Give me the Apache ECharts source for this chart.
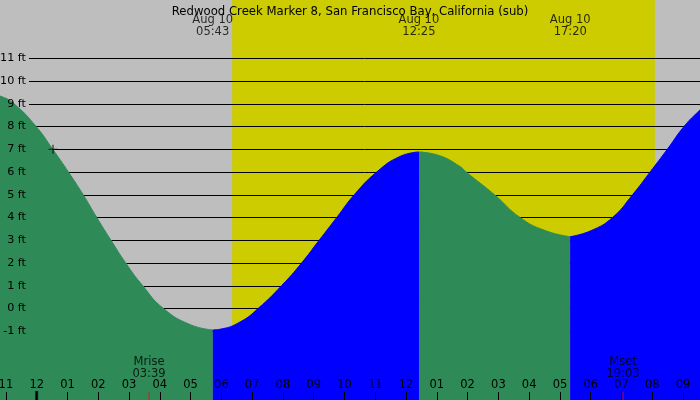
<!DOCTYPE html>
<html>
<head>
<meta charset="utf-8">
<title>Redwood Creek Marker 8 tides</title>
<script src="https://cdn.jsdelivr.net/npm/echarts@6/dist/echarts.min.js"></script>
<style>
  html, body { margin: 0; padding: 0; background: #bebebe; }
  #chart { width: 700px; height: 400px; }
</style>
</head>
<body>
<div id="chart"></div>
<script>
// Высота прилива [час от полуночи 10 авг., футы]
const fallingNight = [[-2, 9.65], [-1.19, 9.34], [-0.74, 9.0], [-0.02, 8.0], [0.52, 7.0], [1.03, 6.0], [1.51, 5.0], [1.95, 4.0], [2.41, 3.0], [2.89, 2.0], [3.44, 1.0], [4.11, 0.0], [4.99, -0.72], [5.72, -0.95]];
const risingMorning = [[5.72, -0.95], [5.96, -0.92], [6.61, -0.6], [7.2, 0.0], [7.96, 1.0], [8.61, 2.0], [9.18, 3.0], [9.75, 4.0], [10.32, 5.0], [11.05, 6.0], [11.8, 6.68], [12.42, 6.88]];
const fallingAfternoon = [[12.42, 6.88], [13.1, 6.71], [13.75, 6.24], [13.95, 6.0], [14.87, 5.0], [15.7, 4.0], [16.52, 3.42], [17.33, 3.15]];
const risingEvening = [[17.33, 3.15], [18.0, 3.41], [18.71, 4.0], [19.36, 5.0], [19.93, 6.0], [20.49, 7.0], [21.03, 8.0], [21.55, 8.73], [22, 9.3]];

// События
const tideDate = 'Aug 10';
const tideTimes = ['05:43', '12:25', '17:20'];
const moonEvents = [['Mrise', '03:39'], ['Mset', '19:03']];
const daylight = ['06:21', '20:05'];
const nowMark = [0.53, 7.0];

const titleText = 'Redwood Creek Marker 8, San Francisco Bay, California (sub)';
const font = 'DejaVu Sans';

// Границы шкалы высот для всего полотна
const yMin = -4.035;
const yMax = 13.565;

function toHours(t) {
    const [h, m] = t.split(':').map(Number);
    return h + m / 60;
}

function hourLabel(v) {
    const hh = ((v % 12) + 12) % 12;
    return String(hh === 0 ? 12 : hh).padStart(2, '0');
}

const tideSeries = (data, color) => ({
    type: 'line',
    xAxisIndex: 0,
    yAxisIndex: 0,
    data,
    smooth: 0.5,
    symbol: 'none',
    silent: true,
    lineStyle: { color, width: 1 },
    areaStyle: { color, opacity: 1, origin: 'start' },
    z: 2
});

const chart = echarts.init(document.getElementById('chart'));

const option = {
    backgroundColor: '#bebebe',
    animation: false,
    textStyle: { fontFamily: font },
    title: {
        text: titleText,
        left: 'center',
        top: 1,
        textStyle: { fontSize: 11.7, fontWeight: 'normal', color: '#000', fontFamily: font }
    },
    grid: [
        { left: -24.86, right: -13.86, top: 0, bottom: 0, outerBoundsMode: 'none', containLabel: false },
        { left: 29, right: 0, top: 58.3, bottom: 68.7, outerBoundsMode: 'none', containLabel: false }
    ],
    xAxis: [
        {
            gridIndex: 0,
            type: 'value',
            min: -2,
            max: 22,
            interval: 1,
            z: 3,
            axisLine: { show: false, onZero: false },
            splitLine: { show: false },
            axisTick: { inside: true, length: 8, lineStyle: { color: '#000', width: 1 } },
            axisLabel: {
                inside: true,
                margin: 9,
                color: '#000',
                fontSize: 11.5,
                fontFamily: font,
                formatter: hourLabel
            }
        },
        { gridIndex: 1, type: 'value', min: 0, max: 1, show: false }
    ],
    yAxis: [
        { gridIndex: 0, type: 'value', min: yMin, max: yMax, show: false },
        {
            gridIndex: 1,
            type: 'value',
            min: -1,
            max: 11,
            interval: 1,
            z: 1,
            axisLine: { show: false },
            axisTick: { show: false },
            axisLabel: { show: false },
            splitLine: { show: true, lineStyle: { color: '#000', width: 1 } }
        },
        {
            gridIndex: 1,
            type: 'value',
            position: 'left',
            min: -1,
            max: 11,
            interval: 1,
            z: 3,
            axisLine: { show: false },
            axisTick: { show: false },
            splitLine: { show: false },
            axisLabel: {
                margin: 3,
                color: '#000',
                fontSize: 11.2,
                fontFamily: font,
                formatter: '{value} ft'
            }
        }
    ],
    series: [
        // день
        {
            type: 'line',
            xAxisIndex: 0,
            yAxisIndex: 0,
            data: daylight.map(t => [toHours(t), yMax]),
            symbol: 'none',
            silent: true,
            lineStyle: { width: 0 },
            areaStyle: { color: '#cccc00', opacity: 1, origin: 'start' },
            z: 0
        },
        tideSeries(fallingNight, '#2e8b57'),
        tideSeries(risingMorning, '#0000ff'),
        tideSeries(fallingAfternoon, '#2e8b57'),
        tideSeries(risingEvening, '#0000ff'),
        // подписи экстремумов
        {
            type: 'scatter',
            xAxisIndex: 0,
            yAxisIndex: 0,
            symbolSize: 0,
            silent: true,
            z: 4,
            data: tideTimes.map(t => ({ value: [toHours(t), yMax], name: t })),
            label: {
                show: true,
                position: 'bottom',
                distance: 14,
                color: '#000',
                fontSize: 11.5,
                fontFamily: font,
                lineHeight: 12,
                align: 'center',
                formatter: p => tideDate + '\n' + p.name
            }
        },
        // луна
        {
            type: 'scatter',
            xAxisIndex: 0,
            yAxisIndex: 0,
            symbolSize: 0,
            silent: true,
            z: 4,
            data: moonEvents.map(([n, t]) => ({ value: [toHours(t), yMin], name: n + '\n' + t })),
            label: {
                show: true,
                position: 'top',
                distance: 20,
                color: '#000',
                fontSize: 11.5,
                fontFamily: font,
                lineHeight: 12,
                align: 'center',
                formatter: p => p.name
            }
        },
        {
            type: 'scatter',
            xAxisIndex: 0,
            yAxisIndex: 0,
            symbol: 'rect',
            symbolSize: [1, 16],
            silent: true,
            z: 4,
            itemStyle: { color: '#ff0000' },
            data: moonEvents.map(([n, t]) => [toHours(t), yMin])
        },
        // полночь
        {
            type: 'scatter',
            xAxisIndex: 0,
            yAxisIndex: 0,
            symbol: 'rect',
            symbolSize: [3, 18],
            silent: true,
            z: 4,
            itemStyle: { color: '#000' },
            data: [[0, yMin]]
        },
        // текущий момент
        {
            type: 'scatter',
            xAxisIndex: 0,
            yAxisIndex: 0,
            symbol: 'path://M0,3.5h8v1h-8zM3.5,0h1v8h-1z',
            symbolSize: 9,
            silent: true,
            z: 4,
            itemStyle: { color: '#000' },
            data: [nowMark]
        }
    ]
};

chart.setOption(option);
</script>
</body>
</html>
